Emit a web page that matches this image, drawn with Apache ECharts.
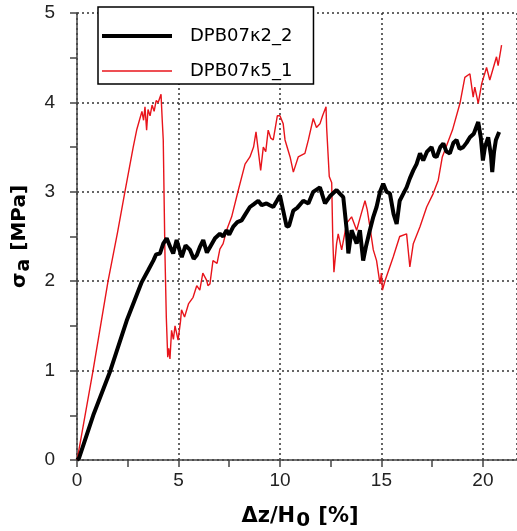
<!DOCTYPE html>
<html>
<head>
<meta charset="utf-8">
<script src="https://cdn.jsdelivr.net/npm/echarts@6/dist/echarts.min.js"></script>
<style>
  html, body { margin: 0; padding: 0; background: #fff; }
  #chart { width: 517px; height: 531px; }
</style>
</head>
<body>
<div id="chart"></div>
<script>
// series names
const seriesNames = ['DPB07κ2_2', 'DPB07κ5_1']

// DPB07κ2_2 : [Δz/H0 (%), σa (MPa)]
const dataK2 = [
  [0, 0], [0.1, 0.02], [0.8, 0.5], [1.63, 0.99], [2.45, 1.56], [3.19, 1.99], [3.5, 2.12],
  [3.76, 2.23], [3.9, 2.3], [4.09, 2.31], [4.25, 2.42], [4.42, 2.48], [4.6, 2.38], [4.74, 2.31],
  [4.91, 2.46], [5.05, 2.35], [5.16, 2.27], [5.35, 2.4], [5.57, 2.35], [5.75, 2.25], [5.9, 2.29],
  [6.05, 2.38], [6.22, 2.46], [6.4, 2.32], [6.55, 2.38], [6.8, 2.48], [7.04, 2.53], [7.2, 2.5],
  [7.37, 2.57], [7.5, 2.52], [7.7, 2.61], [7.9, 2.66], [8.11, 2.68], [8.3, 2.75], [8.52, 2.83],
  [8.7, 2.86], [8.93, 2.9], [9.1, 2.85], [9.34, 2.87], [9.5, 2.85], [9.67, 2.83], [9.85, 2.9],
  [10.0, 2.96], [10.15, 2.8], [10.33, 2.61], [10.45, 2.62], [10.66, 2.79], [10.85, 2.82],
  [11.15, 2.9], [11.4, 2.87], [11.64, 3.0], [11.97, 3.05], [12.22, 2.87], [12.46, 2.95],
  [12.79, 3.02], [12.95, 2.98], [13.12, 2.94], [13.3, 2.55], [13.37, 2.31], [13.53, 2.57],
  [13.78, 2.42], [13.94, 2.57], [14.1, 2.23], [14.25, 2.4], [14.43, 2.57], [14.6, 2.72],
  [14.76, 2.83], [14.93, 3.0], [15.09, 3.09], [15.25, 3.0], [15.42, 2.98], [15.6, 2.75],
  [15.75, 2.64], [15.9, 2.9], [16.08, 2.98], [16.24, 3.05], [16.4, 3.15], [16.57, 3.24],
  [16.73, 3.31], [16.9, 3.43], [17.06, 3.35], [17.25, 3.45], [17.47, 3.5], [17.6, 3.4],
  [17.72, 3.39], [17.9, 3.5], [18.05, 3.54], [18.2, 3.45], [18.37, 3.43], [18.55, 3.55],
  [18.7, 3.58], [18.85, 3.48], [19.03, 3.5], [19.2, 3.55], [19.36, 3.61], [19.55, 3.65],
  [19.77, 3.78], [19.9, 3.6], [20.0, 3.35], [20.1, 3.5], [20.26, 3.61], [20.4, 3.4],
  [20.46, 3.22], [20.55, 3.45], [20.64, 3.58], [20.8, 3.67]
]

// DPB07κ5_1
const dataK5 = [
  [0, 0], [0.1, 0.12], [0.79, 1.0], [1.53, 2.0], [2.0, 2.55], [2.36, 3.0], [2.77, 3.5],
  [2.95, 3.7], [3.1, 3.82], [3.2, 3.9], [3.28, 3.8], [3.35, 3.95], [3.43, 3.69], [3.5, 3.92],
  [3.6, 3.85], [3.7, 3.97], [3.8, 3.9], [3.9, 4.02], [4.0, 4.0], [4.14, 4.09], [4.2, 3.8],
  [4.25, 3.58], [4.33, 2.35], [4.4, 1.6], [4.47, 1.15], [4.52, 1.25], [4.58, 1.13], [4.66, 1.45],
  [4.75, 1.35], [4.83, 1.5], [4.98, 1.34], [5.1, 1.55], [5.15, 1.68], [5.3, 1.6], [5.5, 1.75],
  [5.72, 1.82], [5.9, 1.95], [6.05, 1.9], [6.2, 2.09], [6.39, 2.01], [6.45, 1.95], [6.55, 1.97],
  [6.7, 2.23], [6.9, 2.2], [7.04, 2.36], [7.2, 2.42], [7.37, 2.57], [7.62, 2.72], [7.95, 3.02],
  [8.28, 3.31], [8.52, 3.39], [8.7, 3.5], [8.82, 3.67], [9.05, 3.24], [9.18, 3.5], [9.3, 3.45],
  [9.42, 3.69], [9.55, 3.6], [9.67, 3.58], [9.87, 3.85], [10.0, 3.85], [10.16, 3.76],
  [10.25, 3.58], [10.5, 3.39], [10.66, 3.22], [10.9, 3.39], [11.23, 3.43], [11.4, 3.58],
  [11.64, 3.82], [11.8, 3.72], [11.97, 3.76], [12.1, 3.85], [12.27, 3.95], [12.3, 3.72],
  [12.43, 3.17], [12.55, 3.1], [12.6, 2.5], [12.66, 2.1], [12.79, 2.42], [12.87, 2.53],
  [13.04, 2.35], [13.29, 2.65], [13.53, 2.72], [13.78, 2.57], [14.0, 2.75], [14.19, 2.9],
  [14.3, 2.8], [14.43, 2.61], [14.6, 2.35], [14.76, 2.23], [14.93, 1.97], [15.0, 2.09],
  [15.05, 1.9], [15.17, 2.0], [15.58, 2.27], [15.9, 2.5], [16.24, 2.53], [16.4, 2.16],
  [16.57, 2.42], [16.9, 2.61], [17.23, 2.83], [17.55, 2.98], [17.8, 3.13], [18.0, 3.39],
  [18.5, 3.69], [18.87, 3.99], [19.11, 4.28], [19.36, 4.32], [19.52, 4.06], [19.6, 4.17],
  [19.77, 3.99], [19.94, 4.21], [20.18, 4.39], [20.34, 4.25], [20.67, 4.51], [20.75, 4.41],
  [20.92, 4.64]
]

const xMax = 21.68
const axisColor = '#444'
const tickStyle = { color: axisColor, width: 1.5 }
const gridLine = { show: true, lineStyle: { color: '#333', width: 1.5, type: [2, 3] } }
const nameFont = { fontFamily: 'DejaVu Sans', fontWeight: 'bold' }

const myChart = echarts.init(document.getElementById('chart'))

const option = {
  animation: false,
  backgroundColor: '#fff',
  grid: { left: 77, top: 13, bottom: 71, right: 0 },
  legend: {
    left: 98,
    top: 7,
    orient: 'vertical',
    data: [
      { name: seriesNames[0], icon: 'path://M0,0L70,0L70,4L0,4Z' },
      { name: seriesNames[1], icon: 'path://M0,0L70,0L70,1.5L0,1.5Z' }
    ],
    itemWidth: 70,
    itemHeight: 20,
    itemGap: 17,
    padding: [20, 21, 4, 4],
    borderColor: '#000',
    borderWidth: 1.5,
    backgroundColor: '#fff',
    textStyle: { fontFamily: 'DejaVu Sans', fontSize: 18, color: '#000', padding: [0, 0, 0, 13] }
  },
  // x 轴名单独画，居中在 300px
  graphic: [{
    type: 'text',
    x: 300,
    y: 503,
    style: {
      text: '{a|Δz/H}{s|0}{a| [%]}',
      align: 'center',
      rich: {
        a: { ...nameFont, fontSize: 21, fill: '#000' },
        s: { ...nameFont, fontSize: 20, fill: '#000', padding: [8, 1, 0, 1] }
      }
    }
  }],
  xAxis: [
    {
      type: 'value',
      min: 0,
      max: xMax,
      interval: 2.5,
      axisLine: { show: true, lineStyle: tickStyle },
      axisTick: { show: true, length: 7, lineStyle: tickStyle },
      axisLabel: {
        fontFamily: 'Liberation Sans', fontSize: 19, color: '#222', margin: 11,
        showMaxLabel: false,
        formatter: (v) => (v % 5 === 0 ? String(v) : '')
      },
      splitLine: { show: false }
    },
    {
      // 只画虚线网格
      type: 'value',
      min: 0,
      max: xMax,
      interval: 5,
      position: 'bottom',
      axisLine: { show: false },
      axisTick: { show: false },
      axisLabel: { show: false },
      splitLine: gridLine
    }
  ],
  yAxis: {
    type: 'value',
    min: 0,
    max: 5,
    interval: 1,
    name: '{a|σ}{s|a}{a| [MPa]}',
    nameLocation: 'middle',
    nameGap: 43,
    nameTextStyle: {
      rich: {
        a: { ...nameFont, fontSize: 20, color: '#000' },
        s: { ...nameFont, fontSize: 19, color: '#000', padding: [8, 1, 0, 1] }
      }
    },
    axisLine: { show: true, lineStyle: tickStyle },
    axisTick: { show: true, length: 7, lineStyle: tickStyle },
    minorTick: { show: true, splitNumber: 2, length: 7, lineStyle: tickStyle },
    axisLabel: { fontFamily: 'Liberation Sans', fontSize: 19, color: '#222', margin: 22 },
    splitLine: gridLine
  },
  series: [
    {
      name: seriesNames[0],
      type: 'line',
      data: dataK2,
      symbol: 'none',
      z: 3,
      lineStyle: { color: '#000', width: 4 },
      itemStyle: { color: '#000' }
    },
    {
      name: seriesNames[1],
      type: 'line',
      data: dataK5,
      symbol: 'none',
      z: 2,
      lineStyle: { color: '#e8141b', width: 1.4 },
      itemStyle: { color: '#e8141b' }
    }
  ]
}

myChart.setOption(option)
</script>
</body>
</html>
